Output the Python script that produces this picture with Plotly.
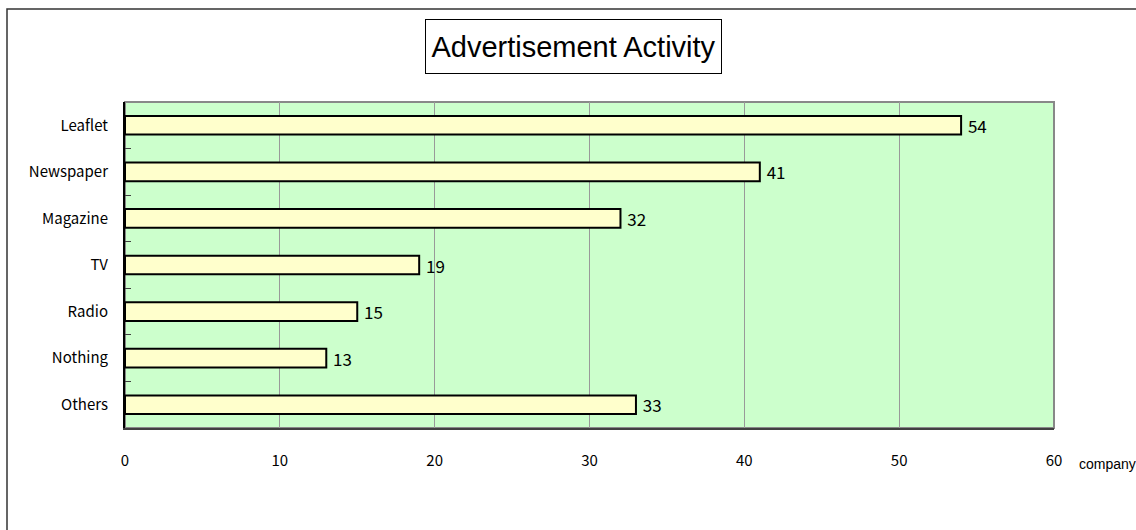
import plotly.graph_objects as go

categories = ["Leaflet", "Newspaper", "Magazine", "TV", "Radio", "Nothing", "Others"]
values = [54, 41, 32, 19, 15, 13, 33]
x_ticks = [0, 10, 20, 30, 40, 50, 60]

W, H = 1136, 530
L, R, T, B = 125, 82, 102, 102
pw, ph = W - L - R, H - T - B

def px(xp):
    return (xp - L) / pw

def py(yp):
    return (H - B - yp) / ph

jp = "Noto Sans CJK JP, Liberation Sans, sans-serif"
label_font = dict(family=jp, size=15, color="black")

fig = go.Figure()
fig.add_trace(go.Bar(
    x=values, y=categories, orientation="h",
    marker=dict(color="#FFFFCC", line=dict(color="black", width=2)),
    text=[" " + str(v) for v in values], textposition="outside",
    textfont=dict(family=jp, size=17, color="black"),
    constraintext="none",
    cliponaxis=False,
    width=0.4,
))

fig.update_layout(
    width=W, height=H,
    margin=dict(l=L, r=R, t=T, b=B),
    paper_bgcolor="white",
    plot_bgcolor="#CCFFCC",
    showlegend=False,
    xaxis=dict(
        range=[0, 60], tickvals=x_ticks, ticktext=[str(t) for t in x_ticks],
        showgrid=True, gridcolor="#999999", gridwidth=1,
        showline=True, linecolor="#404040", linewidth=2,
        ticks="", tickfont=label_font, ticklabelstandoff=18,
        zeroline=False, fixedrange=True,
    ),
    yaxis=dict(
        categoryorder="array", categoryarray=categories, autorange="reversed",
        showgrid=False, showline=True, linecolor="black", linewidth=2,
        ticks="inside", tickson="boundaries", ticklen=6, tickcolor="#404040", tickwidth=1,
        tickfont=label_font, ticklabelstandoff=12,
        zeroline=False, fixedrange=True,
    ),
    shapes=[
        dict(type="rect", xref="paper", yref="paper", x0=0, x1=1, y0=0, y1=1,
             line=dict(color="#888888", width=2), layer="below"),
        dict(type="rect", xref="paper", yref="paper", x0=px(7), x1=px(1145), y0=py(9), y1=py(540),
             line=dict(color="#333333", width=1.5), layer="below"),
    ],
    annotations=[
        dict(text="Advertisement Activity", xref="paper", yref="paper",
             x=px(573.5), y=py(46.5), xanchor="center", yanchor="middle", showarrow=False,
             font=dict(family="Liberation Sans, Arial, sans-serif", size=29, color="black"),
             bordercolor="black", borderwidth=1, bgcolor="white",
             width=293, height=51, borderpad=1),
        dict(text="company", xref="paper", yref="paper",
             x=px(1077), y=py(464), xanchor="left", yanchor="middle", showarrow=False,
             font=dict(family="Liberation Sans, Arial, sans-serif", size=14, color="black")),
    ],
)

fig.write_html("out.html")
